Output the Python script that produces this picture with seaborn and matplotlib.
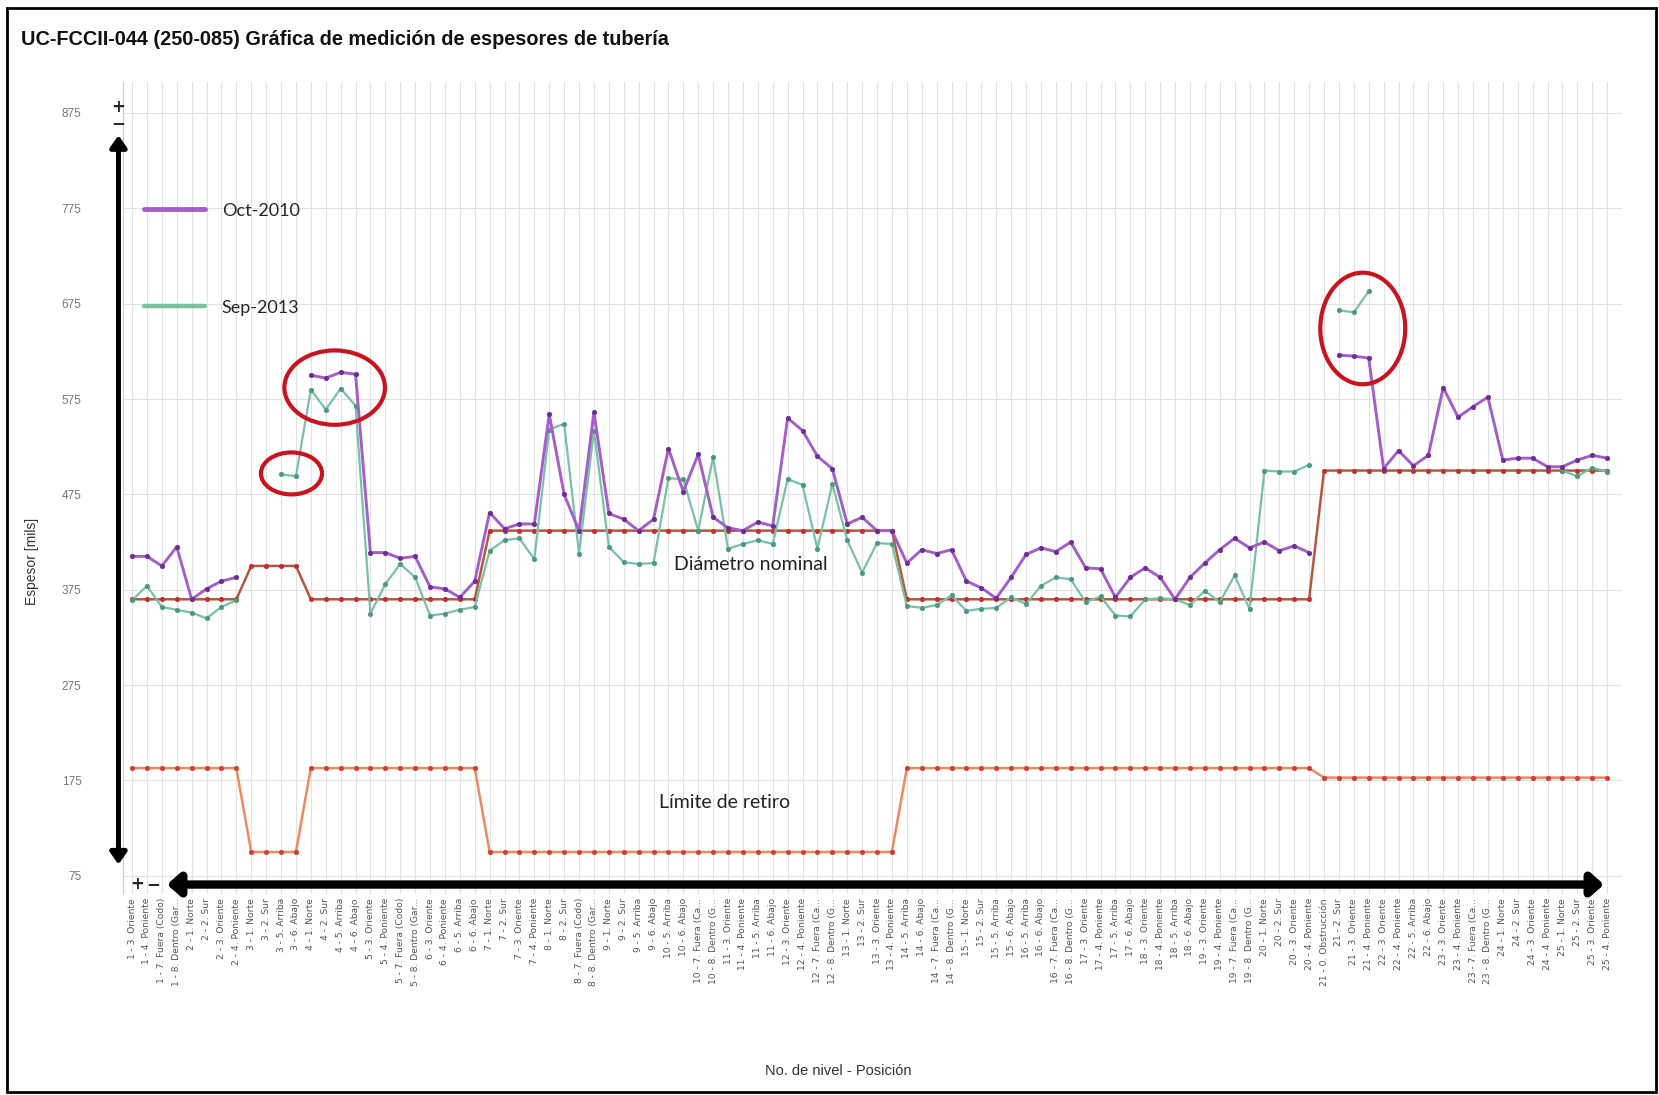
import numpy as np
import pandas as pd
import seaborn as sns
import matplotlib.pyplot as plt
from matplotlib.patches import Ellipse, FancyArrowPatch, Rectangle
from matplotlib.lines import Line2D

# Measurement positions (level - position)
positions = [
    "1 - 3. Oriente", "1 - 4. Poniente", "1 - 7. Fuera (Codo)", "1 - 8. Dentro (Gar...",
    "2 - 1. Norte", "2 - 2. Sur", "2 - 3. Oriente", "2 - 4. Poniente",
    "3 - 1. Norte", "3 - 2. Sur", "3 - 5. Arriba", "3 - 6. Abajo",
    "4 - 1. Norte", "4 - 2. Sur", "4 - 5. Arriba", "4 - 6. Abajo",
    "5 - 3. Oriente", "5 - 4. Poniente", "5 - 7. Fuera (Codo)", "5 - 8. Dentro (Gar...",
    "6 - 3. Oriente", "6 - 4. Poniente", "6 - 5. Arriba", "6 - 6. Abajo",
    "7 - 1. Norte", "7 - 2. Sur", "7 - 3. Oriente", "7 - 4. Poniente",
    "8 - 1. Norte", "8 - 2. Sur", "8 - 7. Fuera (Codo)", "8 - 8. Dentro (Gar...",
    "9 - 1. Norte", "9 - 2. Sur", "9 - 5. Arriba", "9 - 6. Abajo",
    "10 - 5. Arriba", "10 - 6. Abajo", "10 - 7. Fuera (Ca...", "10 - 8. Dentro (G...",
    "11 - 3. Oriente", "11 - 4. Poniente", "11 - 5. Arriba", "11 - 6. Abajo",
    "12 - 3. Oriente", "12 - 4. Poniente", "12 - 7. Fuera (Ca...", "12 - 8. Dentro (G...",
    "13 - 1. Norte", "13 - 2. Sur", "13 - 3. Oriente", "13 - 4. Poniente",
    "14 - 5. Arriba", "14 - 6. Abajo", "14 - 7. Fuera (Ca...", "14 - 8. Dentro (G...",
    "15 - 1. Norte", "15 - 2. Sur", "15 - 5. Arriba", "15 - 6. Abajo",
    "16 - 5. Arriba", "16 - 6. Abajo", "16 - 7. Fuera (Ca...", "16 - 8. Dentro (G...",
    "17 - 3. Oriente", "17 - 4. Poniente", "17 - 5. Arriba", "17 - 6. Abajo",
    "18 - 3. Oriente", "18 - 4. Poniente", "18 - 5. Arriba", "18 - 6. Abajo",
    "19 - 3. Oriente", "19 - 4. Poniente", "19 - 7. Fuera (Ca...", "19 - 8. Dentro (G...",
    "20 - 1. Norte", "20 - 2. Sur", "20 - 3. Oriente", "20 - 4. Poniente",
    "21 - 0. Obstrucción", "21 - 2. Sur", "21 - 3. Oriente", "21 - 4. Poniente",
    "22 - 3. Oriente", "22 - 4. Poniente", "22 - 5. Arriba", "22 - 6. Abajo",
    "23 - 3. Oriente", "23 - 4. Poniente", "23 - 7. Fuera (Ca...", "23 - 8. Dentro (G...",
    "24 - 1. Norte", "24 - 2. Sur", "24 - 3. Oriente", "24 - 4. Poniente",
    "25 - 1. Norte", "25 - 2. Sur", "25 - 3. Oriente", "25 - 4. Poniente",
]

nan = np.nan

# Wall thickness readings [mils], four positions per level
oct_2010 = [
    410, 410, 400, 420,
    365, 376, 384, 388,
    nan, nan, nan, nan,
    600, 597, 603, 601,
    414, 414, 408, 410,
    378, 376, 367, 384,
    456, 439, 444, 444,
    559, 475, 437, 561,
    455, 449, 437, 449,
    523, 478, 517, 451,
    440, 437, 446, 442,
    555, 542, 515, 502,
    444, 451, 437, 437,
    403, 417, 413, 417,
    384, 377, 366, 388,
    412, 419, 415, 425,
    398, 397, 367, 388,
    398, 388, 365, 388,
    403, 417, 429, 419,
    425, 416, 421, 414,
    nan, 621, 620, 618,
    502, 521, 505, 516,
    587, 556, 567, 577,
    511, 513, 513, 504,
    504, 511, 516, 513,
]

sep_2013 = [
    364, 379, 357, 354,
    351, 345, 357, 364,
    nan, nan, 496, 494,
    585, 564, 586, 568,
    350, 381, 402, 388,
    348, 350, 354, 357,
    416, 427, 429, 407,
    543, 549, 413, 542,
    420, 404, 402, 403,
    492, 491, 437, 514,
    418, 423, 427, 423,
    491, 485, 418, 486,
    427, 393, 424, 423,
    358, 356, 359, 369,
    353, 355, 356, 367,
    360, 379, 388, 386,
    362, 368, 348, 347,
    365, 366, 365, 359,
    374, 362, 390, 355,
    500, 499, 499, 506,
    nan, 668, 666, 688,
    nan, nan, nan, nan,
    nan, nan, nan, nan,
    nan, nan, nan, nan,
    500, 494, 503, 499,
]

diametro_nominal = [
    365, 365, 365, 365,
    365, 365, 365, 365,
    400, 400, 400, 400,
    365, 365, 365, 365,
    365, 365, 365, 365,
    365, 365, 365, 365,
    437, 437, 437, 437,
    437, 437, 437, 437,
    437, 437, 437, 437,
    437, 437, 437, 437,
    437, 437, 437, 437,
    437, 437, 437, 437,
    437, 437, 437, 437,
    365, 365, 365, 365,
    365, 365, 365, 365,
    365, 365, 365, 365,
    365, 365, 365, 365,
    365, 365, 365, 365,
    365, 365, 365, 365,
    365, 365, 365, 365,
    500, 500, 500, 500,
    500, 500, 500, 500,
    500, 500, 500, 500,
    500, 500, 500, 500,
    500, 500, 500, 500,
]

limite_retiro = [
    188, 188, 188, 188,
    188, 188, 188, 188,
    100, 100, 100, 100,
    188, 188, 188, 188,
    188, 188, 188, 188,
    188, 188, 188, 188,
    100, 100, 100, 100,
    100, 100, 100, 100,
    100, 100, 100, 100,
    100, 100, 100, 100,
    100, 100, 100, 100,
    100, 100, 100, 100,
    100, 100, 100, 100,
    188, 188, 188, 188,
    188, 188, 188, 188,
    188, 188, 188, 188,
    188, 188, 188, 188,
    188, 188, 188, 188,
    188, 188, 188, 188,
    188, 188, 188, 188,
    178, 178, 178, 178,
    178, 178, 178, 178,
    178, 178, 178, 178,
    178, 178, 178, 178,
    178, 178, 178, 178,
]

y_ticks = [75, 175, 275, 375, 475, 575, 675, 775, 875]

sns.set_theme(style="white")
plt.rcParams["font.family"] = ["DejaVu Sans"]

PURPLE, PURPLE_DOT = "#a45ec9", "#6b2f8f"
GREEN, GREEN_DOT = "#78c2a3", "#4b9a7b"
NOMINAL, NOMINAL_DOT = "#b5573f", "#c0322c"
RETIRO, RETIRO_DOT = "#ea8b60", "#cf3f33"
ARIAL = ["Liberation Sans", "DejaVu Sans"]
SOFT = ["Lato", "DejaVu Sans"]

fig = plt.figure(figsize=(16.59, 10.95), dpi=100)
ax = fig.add_axes([0.0742, 0.1836, 0.9035, 0.7411])


def draw_series(values, color, dot, lw, z, ms=3.2):
    df = pd.DataFrame({"x": np.arange(len(values)), "y": values})
    df["seg"] = df["y"].isna().cumsum()
    df = df.dropna()
    sns.lineplot(data=df, x="x", y="y", units="seg", estimator=None,
                 color=color, lw=lw, marker="o", markersize=ms,
                 markerfacecolor=dot, markeredgecolor=dot, markeredgewidth=0.5,
                 ax=ax, zorder=z, legend=False)


draw_series(limite_retiro, RETIRO, RETIRO_DOT, 1.8, 3)
draw_series(diametro_nominal, NOMINAL, NOMINAL_DOT, 1.8, 3)
draw_series(sep_2013, GREEN, GREEN_DOT, 1.6, 4)
draw_series(oct_2010, PURPLE, PURPLE_DOT, 2.1, 5)

ax.set_xlim(-0.6, 100)
ax.set_ylim(56, 907)
ax.set_xticks(np.arange(len(positions)))
ax.set_xticklabels(positions, rotation=90, fontsize=6.6, color="#555555")
ax.set_yticks(y_ticks)
ax.set_yticklabels([str(t) for t in y_ticks], fontsize=8.5, color="#777777",
                   family=ARIAL)
ax.tick_params(axis="x", length=0, pad=3)
ax.tick_params(axis="y", length=0, pad=30)
ax.set_xlabel("")
ax.set_ylabel("")
ax.grid(True, color="#e2e2e2", lw=0.8)
ax.set_axisbelow(True)
for side in ["top", "right", "bottom"]:
    ax.spines[side].set_visible(False)
ax.spines["left"].set_color("#cccccc")
ax.spines["left"].set_linewidth(0.8)

# Highlighted readings
for cx, cy, w, h in [(10.7, 497, 4.1, 44), (13.6, 587, 6.75, 78), (82.6, 649, 5.7, 117)]:
    ax.add_patch(Ellipse((cx, cy), w, h, fill=False, ec="#c8141e", lw=3, zorder=6))

ax.text(41.5, 402, "Diámetro nominal", fontsize=14, family=SOFT, color="#222222",
        ha="center", va="center", zorder=7)
ax.text(39.8, 152, "Límite de retiro", fontsize=14, family=SOFT, color="#222222",
        ha="center", va="center", zorder=7)

handles = [Line2D([], [], color=PURPLE, lw=3.5), Line2D([], [], color=GREEN, lw=3.2)]
ax.legend(handles, ["Oct-2010", "Sep-2013"], loc="upper left",
          bbox_to_anchor=(0.014, 0.852), frameon=False, handlelength=3.4,
          handletextpad=0.9, labelspacing=4.5, borderpad=0, borderaxespad=0,
          prop={"family": SOFT, "size": 13})

# Scroll / zoom controls along the axes
fig.add_artist(FancyArrowPatch((0.0714, 0.879), (0.0714, 0.208), transform=fig.transFigure,
                               arrowstyle="<|-|>,head_length=0.5,head_width=0.35",
                               mutation_scale=14, lw=3.6, color="black"))
fig.add_artist(FancyArrowPatch((0.099, 0.1922), (0.9685, 0.1922), transform=fig.transFigure,
                               arrowstyle="<|-|>,head_length=0.45,head_width=0.4",
                               mutation_scale=16, lw=6, color="black"))
fig.text(0.0714, 0.902, "+", fontsize=12, weight="bold", ha="center", va="center")
fig.text(0.0714, 0.888, "−", fontsize=12, weight="bold", ha="center", va="center")
fig.text(0.0829, 0.1925, "+", fontsize=12, weight="bold", ha="center", va="center")
fig.text(0.0925, 0.1925, "−", fontsize=12, weight="bold", ha="center", va="center")

fig.text(0.0127, 0.9635, "UC-FCCII-044 (250-085) Gráfica de medición de espesores de tubería",
         fontsize=14.3, weight="bold", family=ARIAL, color="#111111", ha="left", va="center")
fig.text(0.0191, 0.4877, "Espesor [mils]", rotation=90, fontsize=10, family=ARIAL,
         color="#333333", ha="center", va="center")
fig.text(0.505, 0.022, "No. de nivel - Posición", fontsize=10.5, family=ARIAL,
         color="#333333", ha="center", va="center")

fig.add_artist(Rectangle((0.004, 0.003), 0.994, 0.990, transform=fig.transFigure,
                         fill=False, ec="black", lw=2))

fig.savefig("out.png", dpi=100, facecolor="white")
